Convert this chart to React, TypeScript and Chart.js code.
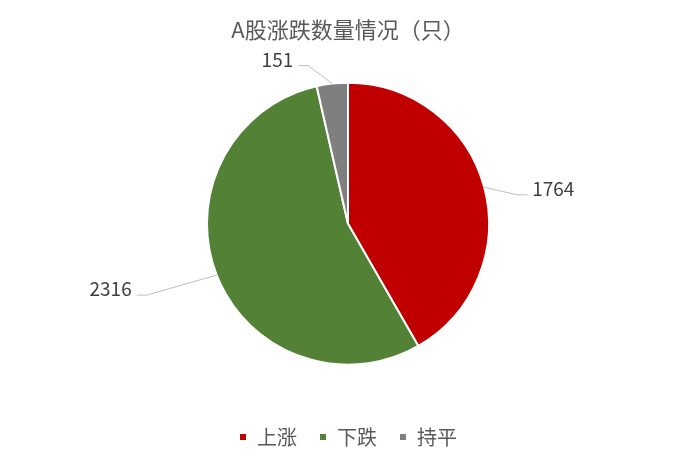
import { useEffect, useRef } from "react";
import { Chart, registerables } from "chart.js";

Chart.register(...registerables);

const CATEGORIES = ["上涨", "下跌", "持平"];
const COUNTS = [1764, 2316, 151];
const COLORS = ["#C00000", "#538135", "#7F7F7F"];
const TITLE = "A股涨跌数量情况（只）";

const FONT = '"Noto Sans CJK SC", "Microsoft YaHei", sans-serif';

// elbow offsets (from the slice edge) for the leader lines, one per slice
const LEADER_OFFSETS: [number, number][] = [
  [33, 7.5],
  [-70, 20],
  [-24, -18],
];

const leaderLabels = {
  id: "leaderLabels",
  afterDatasetsDraw(chart: any) {
    const ctx = chart.ctx;
    const meta = chart.getDatasetMeta(0);
    const values = chart.data.datasets[0].data as number[];
    ctx.save();
    ctx.font = `19px ${FONT}`;
    ctx.textBaseline = "alphabetic";
    meta.data.forEach((arc: any, i: number) => {
      const { x, y, startAngle, endAngle, outerRadius } = arc.getProps(
        ["x", "y", "startAngle", "endAngle", "outerRadius"],
        true
      );
      const mid = (startAngle + endAngle) / 2;
      const ex = x + Math.cos(mid) * outerRadius;
      const ey = y + Math.sin(mid) * outerRadius;
      const [dx, dy] = LEADER_OFFSETS[i];
      const bx = ex + dx;
      const by = ey + dy;
      const side = dx >= 0 ? 1 : -1;
      const hx = bx + side * 10;
      ctx.strokeStyle = "#BFBFBF";
      ctx.lineWidth = 1;
      ctx.beginPath();
      ctx.moveTo(ex, ey);
      ctx.lineTo(bx, by);
      ctx.lineTo(hx, by);
      ctx.stroke();
      ctx.fillStyle = "#404040";
      ctx.textAlign = side > 0 ? "left" : "right";
      ctx.fillText(String(values[i]), hx + side * 5, by + 1);
    });
    ctx.restore();
  },
};

export default function App() {
  const canvasRef = useRef<HTMLCanvasElement>(null);

  useEffect(() => {
    if (!canvasRef.current) return;
    const chart = new Chart(canvasRef.current, {
      type: "pie",
      data: {
        labels: CATEGORIES,
        datasets: [
          {
            data: COUNTS,
            backgroundColor: COLORS,
            borderColor: "#FFFFFF",
            borderWidth: 2,
            radius: 141,
          },
        ],
      },
      options: {
        responsive: false,
        animation: false,
        layout: { padding: { left: 18, bottom: 8 } },
        plugins: {
          title: {
            display: true,
            text: TITLE,
            color: "#595959",
            font: { family: FONT, size: 22, weight: "normal" },
            padding: { top: 16, bottom: 0 },
          },
          legend: {
            position: "bottom",
            labels: {
              boxWidth: 8,
              boxHeight: 8,
              padding: 22,
              color: "#595959",
              font: { family: FONT, size: 20 },
            },
          },
          tooltip: { enabled: false },
        },
      },
      plugins: [leaderLabels],
    });
    return () => chart.destroy();
  }, []);

  return (
    <div style={{ position: "fixed", left: 0, top: 0, width: 678, height: 465, background: "#fff" }}>
      <canvas ref={canvasRef} width={678} height={465} style={{ width: 678, height: 465 }} />
    </div>
  );
}
